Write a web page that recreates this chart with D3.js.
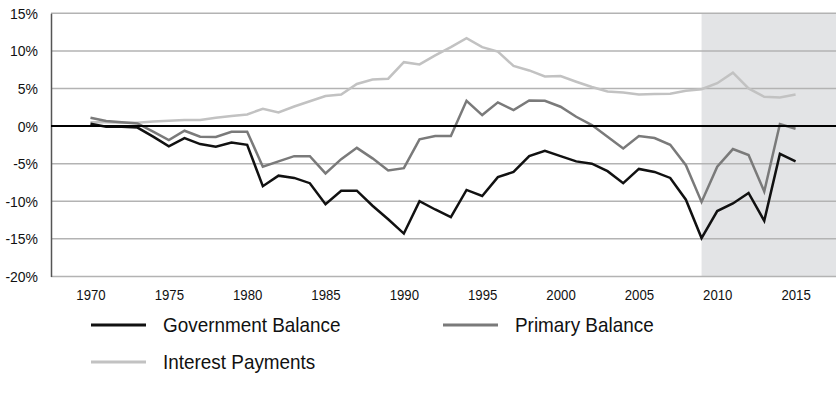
<!DOCTYPE html>
<html>
<head>
  <meta charset="UTF-8">
  <style>
    body { margin: 0; background: #fff; }
    text { font-family: "Liberation Sans Narrow", "Arial Narrow", "Liberation Sans", sans-serif; fill: #111; }
  </style>
</head>
<body>
<script type='text/javascript' src='https://d3js.org/d3.v7.min.js'></script>
<script>
  var width = 836, height = 402;

  // data, share of GDP (%)
  var years = d3.range(1970, 2016);
  var govBalance = [0.3, -0.1, -0.1, -0.2, -1.4, -2.7, -1.6, -2.4, -2.75, -2.2,
    -2.5, -8.0, -6.6, -6.9, -7.6, -10.4, -8.6, -8.6, -10.6, -12.4,
    -14.3, -10.0, -11.1, -12.1, -8.5, -9.3, -6.8, -6.1, -4.0, -3.3,
    -4.0, -4.7, -5.0, -6.0, -7.6, -5.7, -6.1, -6.9, -9.8, -14.9,
    -11.3, -10.3, -8.9, -12.6, -3.7, -4.7];
  var primaryBalance = [1.1, 0.66, 0.5, 0.35, -0.75, -1.86, -0.62, -1.42, -1.46, -0.75,
    -0.75, -5.4, -4.7, -4.0, -4.0, -6.3, -4.4, -2.9, -4.3, -5.9,
    -5.6, -1.77, -1.33, -1.33, 3.37, 1.46, 3.15, 2.13, 3.4, 3.37,
    2.57, 1.24, 0.13, -1.42, -2.97, -1.33, -1.6, -2.5, -5.2, -10.1,
    -5.4, -3.06, -3.86, -8.7, 0.27, -0.35];
  var interestPayments = [0.5, 0.5, 0.45, 0.45, 0.6, 0.7, 0.8, 0.8, 1.1, 1.35,
    1.55, 2.3, 1.8, 2.6, 3.3, 4.0, 4.2, 5.6, 6.2, 6.3,
    8.5, 8.2, 9.4, 10.5, 11.7, 10.5, 9.9, 8.0, 7.4, 6.6,
    6.65, 5.9, 5.2, 4.6, 4.45, 4.2, 4.25, 4.3, 4.7, 4.9,
    5.7, 7.1, 5.0, 3.9, 3.8, 4.2];
  var xTicks = [1970, 1975, 1980, 1985, 1990, 1995, 2000, 2005, 2010, 2015];
  var yTicks = [-20, -15, -10, -5, 0, 5, 10, 15];
  var shadeStart = 2009;

  var series = [
    {name: 'Interest Payments', values: interestPayments, color: '#c2c2c2'},
    {name: 'Primary Balance', values: primaryBalance, color: '#7a7a7a'},
    {name: 'Government Balance', values: govBalance, color: '#111111'}
  ];

  var plotLeft = 51, plotRight = 836, plotTop = 13.3, plotBottom = 276.4;

  // squeeze text sideways, the original uses a condensed face
  function condense(sel, k) {
    sel.each(function() {
      var w = this.getComputedTextLength();
      d3.select(this).attr('textLength', w * k).attr('lengthAdjust', 'spacingAndGlyphs');
    });
  }

  var svg = d3.select('body').append('svg').attr('width', width).attr('height', height);

  var x = d3.scaleLinear().domain([1967.48, 2017.58]).range([plotLeft, plotRight]);
  var y = d3.scaleLinear().domain([-20, 15]).range([plotBottom, plotTop]);

  // shaded period
  svg.append('rect')
    .attr('x', x(shadeStart)).attr('y', plotTop)
    .attr('width', plotRight - x(shadeStart)).attr('height', plotBottom - plotTop)
    .attr('fill', '#e3e4e6');

  // grid
  svg.selectAll('.grid').data(yTicks.filter(function(d) { return d != 0 }))
    .join('line')
    .attr('x1', plotLeft).attr('x2', plotRight)
    .attr('y1', function(d) { return y(d) }).attr('y2', function(d) { return y(d) })
    .attr('stroke', '#b3b3b3').attr('stroke-width', 1.5);

  // y axis
  var yAxis = svg.append('g')
    .attr('transform', 'translate(' + plotLeft + ',0)')
    .call(d3.axisLeft(y).tickValues(yTicks).tickSize(0).tickPadding(13)
      .tickFormat(function(d) { return d + '%' }));
  yAxis.select('.domain').attr('stroke', '#555').attr('stroke-width', 1.5);
  yAxis.selectAll('text').style('font-size', '15.5px').attr('fill', '#111').call(condense, 0.9);

  // x axis labels
  var xAxis = svg.append('g')
    .attr('transform', 'translate(0,' + plotBottom + ')')
    .call(d3.axisBottom(x).tickValues(xTicks).tickSize(0).tickPadding(13)
      .tickFormat(d3.format('d')));
  xAxis.select('.domain').remove();
  xAxis.selectAll('text').style('font-size', '15px').attr('fill', '#111').call(condense, 0.88);

  // lines
  var line = d3.line()
    .x(function(d, i) { return x(years[i]) })
    .y(function(d) { return y(d) });

  series.forEach(function(s) {
    svg.append('path')
      .attr('d', line(s.values))
      .attr('fill', 'none')
      .attr('stroke', s.color)
      .attr('stroke-width', 2.5);
  });

  // zero line
  svg.append('line')
    .attr('x1', plotLeft).attr('x2', plotRight)
    .attr('y1', y(0)).attr('y2', y(0))
    .attr('stroke', '#000').attr('stroke-width', 2);

  // legend
  var legendItems = [
    {s: series[2], lx: 91, ly: 325},
    {s: series[1], lx: 443, ly: 325},
    {s: series[0], lx: 91, ly: 362}
  ];
  var lg = svg.selectAll('.legend').data(legendItems).join('g')
    .attr('transform', function(d) { return 'translate(' + d.lx + ',' + d.ly + ')' });
  lg.append('line')
    .attr('x1', 0).attr('x2', 55).attr('y1', 0).attr('y2', 0)
    .attr('stroke', function(d) { return d.s.color })
    .attr('stroke-width', 3);
  lg.append('text')
    .attr('x', 72).attr('y', 0).attr('dy', '0.35em')
    .style('font-size', '21px')
    .text(function(d) { return d.s.name })
    .call(condense, 0.9);
</script>
</body>
</html>
